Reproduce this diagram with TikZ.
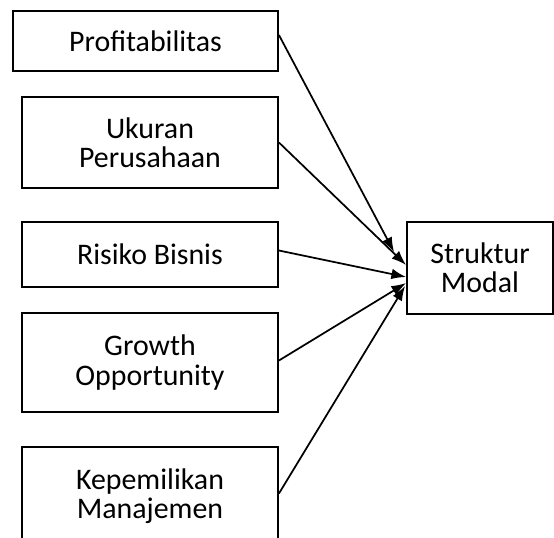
\documentclass[tikz,border=0pt]{standalone}
\usepackage{fontspec}
\setmainfont{Carlito}
\usetikzlibrary{arrows.meta}

\tikzset{
	kotak/.style={draw, line width=1.4pt, align=center, inner sep=0pt, font=\fontsize{22.4}{22}\selectfont},
	panah/.style={line width=1.3pt, -{Latex[length=11pt,width=8pt]}}
}

\begin{document}
\begin{tikzpicture}[x=0.75pt,y=-0.75pt]
\clip (0,0) rectangle (554,537);
% variabel bebas
\node[kotak, minimum width=198.75pt, minimum height=45pt] (profit) at (145.5,41) {Profitabilitas};
\node[kotak, minimum width=192pt, minimum height=68.25pt] (ukuran) at (150,142.5) {Ukuran\\Perusahaan};
\node[kotak, minimum width=192pt, minimum height=48.75pt] (risiko) at (150,254.5) {Risiko Bisnis};
\node[kotak, minimum width=192pt, minimum height=74.25pt] (growth) at (150,362.5) {Growth\\Opportunity};
\node[kotak, minimum width=192pt, minimum height=74.25pt] (milik) at (150,496.5) {Kepemilikan\\Manajemen};
% variabel terikat
\node[kotak, minimum width=109.5pt, minimum height=69pt] (modal) at (480,268) {Struktur\\Modal};
%\draw[help lines] (0,0) grid (554,537);
\draw[panah] ([shift={(0,-6)}]profit.east) -- ([shift={(-12,-16)}]modal.west);
\draw[panah] (ukuran.east) -- ([shift={(0,-3)}]modal.west);
\draw[panah] ([shift={(0,-4)}]risiko.east) -- ([shift={(0,9)}]modal.west);
\draw[panah] ([shift={(0,-2)}]growth.east) -- ([shift={(0,15)}]modal.west);
\draw[panah] ([shift={(0,-3)}]milik.east) -- ([shift={(-1,18)}]modal.west);
\end{tikzpicture}
\end{document}
